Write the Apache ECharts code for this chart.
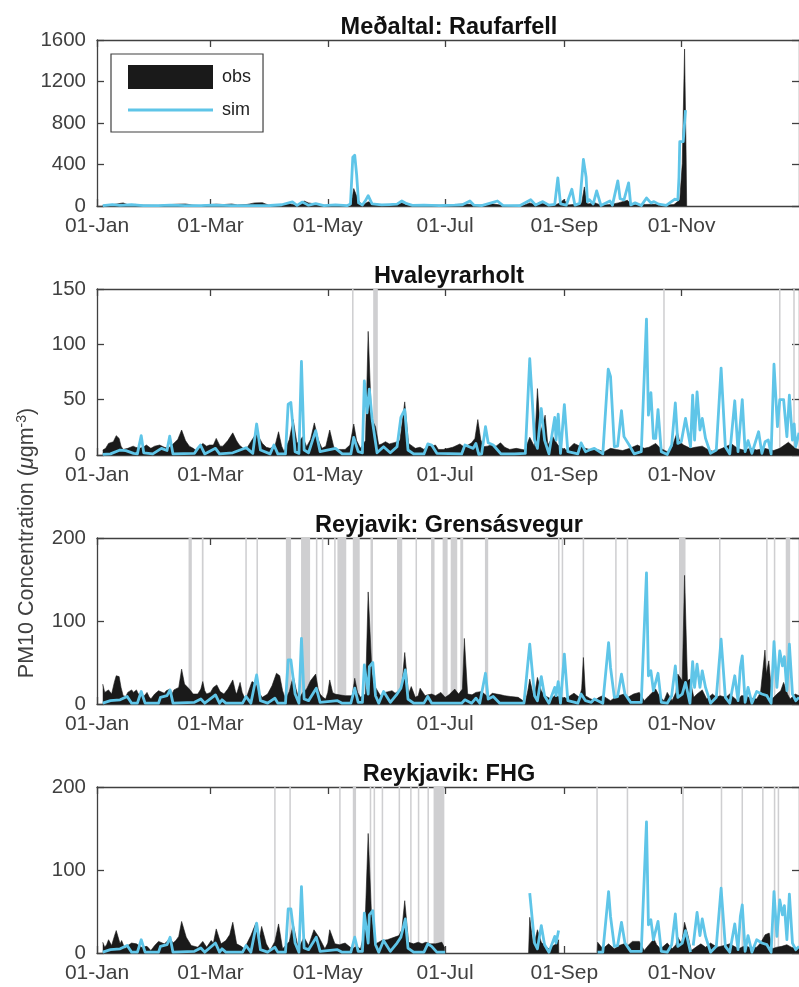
<!DOCTYPE html>
<html>
<head>
<meta charset="utf-8">
<script src="https://cdn.jsdelivr.net/npm/echarts@6/dist/echarts.min.js"></script>
<style>
html, body { margin: 0; padding: 0; background: #fff; overflow: hidden; }
#chart { width: 799px; height: 987px; }
</style>
</head>
<body>
<div id="chart"></div>
<script>
// all series are [day of year, value]
const tickDays = [0, 59, 120, 181, 243, 304];
const tickLabels = ['01-Jan', '01-Mar', '01-May', '01-Jul', '01-Sep', '01-Nov'];
const titles = ['Meðaltal: Raufarfell', 'Hvaleyrarholt', 'Reyjavik: Grensásvegur', 'Reykjavik: FHG'];
const yMax = [1600, 150, 200, 200];
const yStep = [400, 50, 100, 100];

const raufObs = [[3,5],[8,12],[13.6,30],[16,12],[20,15],[24,8],[32,6],[38,14],[42,18],[46,20],[50,8],[54,4],[58,12],[62,18],[66,14],[70,20],[73,10],[78,15],[82,30],[86,32],[89,10],[94,8],[100,22],[104,6],[107.7,48],[110,30],[113,20],[118,6],[124,10],[128,3],[132,8],[133.5,168],[136,50],[138,8],[141,40],[144,22],[148,10],[152,12],[156,25],[158.5,30],[161,12],[166,6],[172,10],[178,8],[186,12],[190,20],[194,16],[198,6],[205,22],[208,14],[212,4],[222,8],[225,30],[228,12],[230,35],[233,18],[238,8],[240,25],[242.7,60],[245,10],[249,18],[252,30],[253.4,184],[255,20],[259,30],[262,8],[267,14],[271,30],[275.8,55],[278,12],[285,15],[290,16],[294,8],[300,14],[303,60],[304.3,410],[305.5,1513],[306.3,500],[306.6,0]];
const raufSim = [[3,4],[8,14],[12,6],[18,12],[24,4],[32,3],[38,8],[46,4],[54,3],[60,8],[70,4],[82,3],[90,5],[96,12],[101.6,39],[104,6],[106.8,38],[110,8],[113.7,22],[118,4],[124,10],[130,3],[131.8,20],[133,470],[134,490],[135,300],[136,30],[138,10],[139.5,50],[141,100],[143,20],[148,10],[152,14],[156,18],[158.5,48],[161,22],[164,6],[170,8],[178,4],[186,8],[190,12],[193.9,48],[196,8],[200,4],[205,30],[208.2,48],[211,6],[220,4],[225.5,61],[228,10],[231.8,42],[235,8],[238,16],[239.6,271],[241,20],[244,8],[246.9,161],[248.5,8],[251,25],[252.9,448],[254.3,280],[255,40],[256,60],[258,20],[259.8,145],[262,5],[266.7,48],[268,8],[270.8,242],[272,70],[272.9,70],[274,60],[276.4,222],[277.5,10],[279.8,30],[283,4],[285.7,77],[288,30],[289.6,42],[292,18],[296,6],[300.3,65],[302,60],[302.6,280],[303,620],[304.8,620],[306,925]];
const raufGaps = [];

const hvalObs = [[3,4.5],[4.5,6],[6,10.5],[7,9],[8.5,12],[10,17.5],[11.5,15],[12.5,8],[13.6,5],[16,6],[18.8,8],[20,7],[22,6],[24,7],[25.7,9],[28,6],[30,8],[32.6,9],[35,7],[37,6],[39,9],[40,10],[42,14],[44,22.6],[46,13],[48,8],[50,6],[51.6,4],[53,7],[55,10.5],[57,8],[58.5,9],[60.5,9],[62,15],[64,8],[65.4,8],[68,13],[70.6,20],[72.5,13],[74,9],[76,6],[77.5,5],[80,12],[82.6,19],[84.5,15],[86,10.5],[88,7],[90,6],[92.5,8],[94.4,21],[96,8],[97.3,3],[100,14],[102,32],[104,10.5],[107,16.6],[109,7.5],[111,14],[113,29],[115,14],[117,6],[119,8],[121,22.6],[123,8],[124,5],[127,5],[129,5],[131.5,9],[133.5,28],[135,13],[137,6],[139.6,13],[141,111.7],[142.7,33],[144.8,25.6],[146.5,9],[148,10],[150,12],[152,10],[155,11.4],[157.5,13],[160,48],[162,10.5],[164,8],[165.5,6],[168,7],[170,5],[172.4,9],[174,8],[176,9],[177.5,5],[180,5],[182.7,6],[185,7],[188.7,10],[191,7],[194.8,11],[196.5,15],[198,32],[199.5,14],[200.8,7.5],[203,8],[205,9],[207.5,8],[209.8,11],[212,7],[214.6,5],[218,6],[222.4,4.5],[225,16],[227.5,7.5],[229,60],[230.6,20],[233,36],[234.4,9],[237,16.6],[239.6,9],[242,6],[244,4.5],[246,7],[248,10.5],[251.7,7.5],[254,6],[256.9,4.5],[260,5],[263.8,3],[267,6],[270,5],[273.3,4],[277,6],[281,9],[284.5,6],[287,7],[290.5,10.5],[293,6],[296.5,3],[299,7],[301.7,21],[303,12],[305,9],[308.6,6],[311,7],[314.7,8],[317.5,5],[320.7,3],[325,6],[330,10],[333,6],[336,4.5],[340,6],[343,4.5],[347,6],[351.8,4],[355,6],[359.5,11.5],[363,6],[365,5]];
const hvalSim = [[3,0.5],[7,1],[12,4.5],[15,4],[19,1.5],[21,1],[23,17.5],[24.3,2],[29,1],[33.5,6],[36.4,4],[37.8,17],[39.5,1],[50.7,1.5],[52.4,6],[53.8,9],[56,1],[61.6,6],[63.7,1],[70.6,2],[77.5,6.6],[81,1.5],[83,28],[85,4.5],[90,1],[92,9],[94,1],[98,1],[99.4,46],[100.8,47.4],[103,3],[105,1.5],[106.3,84.5],[107.7,4.5],[110,2],[113.7,22],[116,3],[124,6],[127.5,1],[132,1],[133.5,16],[135.8,3],[138,2],[139,67],[140.4,38],[141.6,59.5],[143,33],[145.6,2],[149,7.5],[152.5,2],[156,7.5],[158,34],[159,34],[160,41],[161.7,4.5],[164.6,1],[170,1],[172,10],[174,9],[176.7,1.5],[189.6,1],[191.3,9],[195.6,6],[197,10.5],[198.5,0.5],[200,1],[202,25.6],[203.4,11],[206,9],[210,1],[217,1],[222.7,1.5],[225,87],[226.7,38],[227.5,13.5],[229,6],[231,42],[232.7,13.5],[235,1],[238,34],[238.7,13.5],[239.8,37],[241,1.5],[243,45.6],[244.8,3],[250,1],[251.7,11],[254,3],[256,4.5],[258.6,6],[263,1],[265.8,77.5],[267,71],[269,7.5],[270.7,8],[272.7,40],[274,16.6],[276.7,9],[279.3,1],[283,3],[285.7,122.8],[286.7,36],[288,56.4],[289.3,15],[290.5,15],[291.7,41],[293.4,3],[296.5,0.5],[298.8,9],[300.7,47],[302,10.5],[303.8,12],[306,33],[307,33],[308.6,7.5],[309.7,54],[310.7,13.5],[312,57],[313.5,22.6],[314.7,33],[316.4,15],[319,1.5],[322,4.5],[324.5,78.5],[326.7,7.5],[329,1],[331.6,49],[333.3,3],[335.5,50],[337,3],[338.5,13],[340.5,1.5],[344,21],[345.7,1.5],[347.4,12],[349,13.6],[350.5,1],[352,82],[353.8,25.6],[355,50],[357,50],[358.7,16.6],[360,54],[361.6,13.5],[362.5,28],[363.3,7.5],[365,20]];
const hvalGaps = [[132.6,133.4],[143.6,146],[294.4,295.2],[354.6,355.4],[362,362.8]];

const grenObs = [[3,24],[4,14],[5,13],[6,17],[7,15],[7.6,12],[9,26],[10,34],[11.5,33],[12.5,20],[13.6,10],[15,9],[16,14],[17,15],[18,17],[19,14],[20.5,17],[21.5,12],[23,11],[24,8],[26,14],[27,9],[28,6],[30,12],[32,16],[33,16],[35,13],[36,16],[38,18],[39,12],[40,17],[41,18],[42.5,20],[44,42],[45.5,24],[46.4,22],[48,18],[50,12],[52.4,12],[54,18],[55,27],[56,16],[57,12],[59,14],[60.5,20],[62.3,23],[64,15],[66,12],[68,18],[70.6,29],[72,15],[72.6,12],[74.4,26],[75.5,14],[76.6,8],[78,10],[79.5,20],[80.6,27],[82.6,24],[84,14],[86,8],[88.7,12],[91,22],[93.3,37],[95,34],[96.5,16],[98,6],[100,15],[102,34],[103.5,18],[105,6],[107,14],[109,18],[111,28],[113.7,36],[115,18],[116,12],[117.5,8],[118.9,6],[120,14],[121,29],[122.5,14],[123.7,12],[126,11],[129,10],[132.7,10],[134,31],[135.5,14],[137,8],[139.6,12],[141,135],[143,36],[144.8,20],[147.4,10],[150,14],[153.4,16],[155,13],[157,16],[158.5,22],[160,62],[162,12],[163.4,21],[165.5,8],[167,10],[168,19],[170.6,10],[172,11],[174,12],[176,10],[178.8,14],[181,8],[183,11],[186,18],[188,12],[190,18],[191,79],[192.7,12],[195,11],[197,14],[200,15],[203.4,8],[205.5,13],[207.7,12],[210,11],[212,10],[215,9],[219,8],[222.7,2],[224,16],[225,30],[226.7,12],[228,18],[229,32],[231,16],[233,10],[236,6],[238,10],[241.3,8],[244,7],[248,13],[250.8,8],[252,18],[252.9,56],[254,10],[256,7],[258.6,4],[261,8],[263,10],[265,7],[267,4],[270,9],[274,12],[276,8],[279,12],[282,14],[284.5,4],[287,10],[290.5,18],[292.5,9],[294.8,4],[296.5,14],[299,4],[301,14],[302,36],[304.3,28],[305.5,155],[307,28],[308.3,30],[310.3,8],[312,12],[314.7,17],[317,6],[320,12],[322,8],[324,10],[327,8],[329,12],[333,4],[335,10],[337,10],[340,7],[343,6],[345,14],[347.3,65],[348,36],[349.3,52],[351,6],[353.5,12],[355.5,16],[357,26],[359,12],[360.4,6],[363,12],[365,10]];
const grenSim = [[3,1],[7,4],[12,5],[15.7,9],[18,1],[21,1],[23,15],[25,1],[32,1],[33,8],[36.4,10],[38,17],[39.5,1],[50.7,2],[54,6],[56,1],[61.6,11],[63.7,1],[65,5],[67,1],[75.7,1],[77.5,9],[80,1],[83,35],[85,4],[88.7,1],[92.5,7],[94,1],[98,1],[99.4,53],[100.8,53],[103,12],[105,1],[106.3,79],[107.7,6],[110,4],[114,19],[116,2],[125,4],[127.5,1],[132,1],[134,19],[135.8,2],[138,2],[139,47],[141,12],[141.6,45],[143.4,50],[144.8,10],[146.5,1],[149,15],[152.5,2],[156,12],[158,19],[159,20],[160.3,41],[161.7,6],[164.6,1],[170,1],[172,9],[174,1],[189.6,1],[191.3,5],[194.8,1],[197,7],[199,1],[202,37],[203.4,6],[206,9],[209.4,1],[222,1],[225,72],[226,70],[227.5,10],[229,4],[231,33],[232.7,10],[235,1],[238,20],[238.7,10],[239.8,27],[241,1],[243,60],[244.8,4],[250,1],[251.7,12],[254,4],[257,2],[258.6,6],[263,1],[266,74],[267,44],[269,8],[270.7,9],[272.7,36],[274.5,12],[277.5,2],[283,2],[285.7,158],[286.7,34],[288,40],[289.3,16],[291.7,37],[293.4,2],[296.5,1],[298.8,10],[300.7,46],[302,8],[304.3,12],[306,26],[307,28],[308.3,1],[309.7,51],[310.7,20],[312,48],[313.5,20],[314.7,40],[316.4,20],[319,1],[322,8],[324.5,78],[326.7,8],[329,1],[331.6,34],[333.3,4],[334.5,44],[335.5,58],[337,2],[338.5,20],[340.5,1],[343,15],[345.7,12],[348.3,10],[350.5,1],[352,75],[353.5,20],[355,64],[356.4,46],[357.4,57],[358.7,16],[360,72],[361.6,12],[363.3,4],[365,8]];
const grenGaps = [[47.6,49.3],[54.5,55.4],[77.1,77.9],[82.9,83.7],[98.2,100.9],[106.1,110.8],[113.8,114.6],[116.9,117.7],[123.3,124.1],[125,129.6],[133,136.6],[142.2,143.5],[156,158.7],[165.6,166.4],[173.7,175.5],[179.7,182.3],[183.9,187.3],[188.9,190.4],[201.7,203.4],[239.7,240.5],[241.6,242.4],[252.5,253.3],[269.4,270.2],[275.4,276.2],[302.6,306],[323.4,324.2],[347.9,348.7],[351.9,352.7],[358.1,360.4]];

const fhgObs = [[3,13],[4,7],[5,10],[6,16],[7.6,9],[9,20],[10,27],[12,11],[12.8,15],[14.5,5],[16,9],[18,12],[20.5,11],[23,7],[26,8],[28,3],[30,9],[32,14],[35,11],[36.5,14],[38,18],[39.5,12],[41,15],[42.5,20],[44,38],[46.4,19],[49,9],[52.4,7],[55,14],[57,7],[59.4,15],[60.5,12],[62,29],[63.5,18],[64.5,11],[67,15],[69,22],[70.6,37],[72.6,11],[75,8],[76.6,5],[80,21],[82.6,36],[84,11],[85.6,32],[88,11],[90,3],[92.5,14],[94.4,35],[96.5,5],[100,14],[102,35],[104.7,5],[107.6,19],[110,9],[112.8,28],[115.4,19],[118.5,5],[120,12],[121,28],[123.7,11],[126,10],[129,12],[132.7,5],[135,8],[137,5],[138.5,20],[139.6,49],[141,144],[142.7,47],[144.8,11],[146.5,13],[148,15],[151,16],[153.4,18],[157,21],[158.5,28],[160,63],[162,13],[164.6,11],[167,13],[169,11],[171,13],[173.2,11],[176,11],[179.3,13],[180.8,6],[181,null],[224.2,null],[224.4,0],[225,43],[226.7,11],[228,18],[229,28],[231,13],[233,8],[235,5],[238.7,11],[240,16],[240.1,0],[240.2,null],[259.8,null],[260,0],[260.3,13],[263,5],[266,11],[269,5],[271.5,9],[274,11],[276,9],[278.4,14],[282,14],[284.5,3],[287,10],[289.6,17],[291,10],[293,5],[296.5,12],[299,5],[301,10],[302,19],[304,11],[305.5,37],[307.3,21],[309,3],[312,8],[314,11],[316.4,7],[319,12],[322.4,7],[326,9],[329,11],[333.6,5],[337,9],[340,6],[343,7],[345,12],[347.4,22],[349.5,24],[351,5],[353.5,7],[356,8],[358.7,10],[361,7],[363.3,5],[365,6]];
const fhgSim = [[3,1],[7,4],[12,5],[15.7,9],[18,1],[21,1],[23,16],[25,1],[32,1],[33,8],[36.4,10],[38,19],[39.5,1],[50.7,2],[54,6],[56,1],[61.6,12],[63.7,1],[65,5],[67,1],[75.7,1],[77.5,9],[80,1],[83,36],[85,4],[88.7,1],[92.5,7],[94,1],[98,1],[99.4,53],[100.8,53],[103,12],[105,1],[106.3,80],[107.7,6],[110,4],[114,19],[116,2],[125,4],[127.5,1],[132,1],[134,19],[135.8,2],[138,2],[139,48],[141,12],[141.6,46],[143.4,51],[144.8,10],[146.5,1],[149,15],[152.5,2],[156,12],[158,19],[159,20],[160.3,41],[161.7,6],[164.6,1],[170,1],[172,11],[174,8],[176.7,1],[181,1],[181.5,null],[224.5,null],[225,72],[226,70],[227.5,12],[229,5],[231,33],[232.7,10],[235,1],[238,20],[238.7,12],[240,27],[240.5,null],[259.5,null],[260.3,1],[263,1],[266,74],[267,44],[269,8],[270.7,9],[272.7,37],[274.5,12],[277.5,2],[283,2],[285.7,158],[286.7,34],[288,40],[289.3,16],[291.7,38],[293.4,2],[296.5,1],[298.8,10],[300.7,47],[302,8],[304.3,12],[306,27],[307,25],[308.6,1],[309.5,null],[310,9],[312,49],[313.5,21],[314.7,41],[316.4,20],[319,1],[322,8],[324.5,78],[326.7,8],[329,1],[331.6,35],[333.3,4],[334.5,44],[335.5,58],[337,2],[338.5,21],[340.5,1],[343,16],[345.7,12],[348.3,10],[350.5,1],[352,74],[353.5,20],[355,64],[356.4,46],[357.4,57],[358.7,16],[360,71],[361.6,12],[363.3,4],[365,8]];
const fhgGaps = [[92.1,92.9],[100,100.8],[125.9,126.7],[133,134.7],[141.8,142.6],[143.8,144.6],[148,148.8],[156.8,157.6],[162.8,163.6],[166.8,167.6],[171.8,172.6],[175,180.6],[259.6,260.4],[275.4,276.2],[304.3,305.1],[324.3,325.1],[335.1,335.9],[345.8,346.6],[351.9,352.7],[353.9,354.7]];

const obsData = [raufObs, hvalObs, grenObs, fhgObs];
const simData = [raufSim, hvalSim, grenSim, fhgSim];
const gapData = [raufGaps, hvalGaps, grenGaps, fhgGaps];

const axisColor = '#404040';
const simColor = '#5fc5e8';
const fontName = '"Liberation Sans", Arial, sans-serif';
const panelTops = [40, 289, 538, 787];
const panelHeight = 166;
// legend key for sim: a thin bar, tiny corner specks keep the icon box at full item size
const simIcon = 'path://M0 0L0.01 0L0.01 0.01L0 0.01ZM0 10.6L85 10.6L85 13.4L0 13.4ZM84.99 23.99L85 23.99L85 24L84.99 24Z';

const chart = echarts.init(document.getElementById('chart'), null, { renderer: 'canvas' });

const grid = [], xAxis = [], yAxis = [], series = [], title = [];
panelTops.forEach((top, i) => {
    grid.push({ left: 97, top: top, width: 705, height: panelHeight });
    title.push({
        text: titles[i],
        left: 444,
        top: top - 29,
        textAlign: 'center',
        textStyle: { fontFamily: fontName, fontSize: 23.5, fontWeight: 'bold', color: '#111' }
    });
    // MATLAB style box: axes on both sides, ticks pointing in
    ['bottom', 'top'].forEach(pos => {
        xAxis.push({
            type: 'value',
            gridIndex: i,
            position: pos,
            min: 0,
            max: 365,
            splitLine: { show: false },
            axisLine: { show: true, onZero: false, lineStyle: { color: axisColor, width: 1.3 } },
            axisTick: { show: true, inside: true, length: 7, customValues: tickDays, lineStyle: { color: axisColor, width: 1.3 } },
            axisLabel: {
                show: pos === 'bottom',
                customValues: tickDays,
                margin: 10,
                color: axisColor,
                fontFamily: fontName,
                fontSize: 21,
                formatter: v => tickLabels[tickDays.indexOf(v)]
            }
        });
    });
    ['left', 'right'].forEach(pos => {
        yAxis.push({
            type: 'value',
            gridIndex: i,
            position: pos,
            min: 0,
            max: yMax[i],
            interval: yStep[i],
            splitLine: { show: false },
            axisLine: { show: true, onZero: false, lineStyle: { color: axisColor, width: 1.3 } },
            axisTick: { show: true, inside: true, length: 7, lineStyle: { color: axisColor, width: 1.3 } },
            axisLabel: {
                show: pos === 'left',
                margin: 11,
                color: axisColor,
                fontFamily: fontName,
                fontSize: 20.5,
                formatter: v => String(v)
            }
        });
    });
    series.push({
        name: 'gap',
        type: 'custom',
        xAxisIndex: i * 2,
        yAxisIndex: i * 2,
        z: 1,
        data: gapData[i],
        encode: { x: [0, 1] },
        renderItem: (params, api) => {
            const a = api.coord([api.value(0), 0]);
            const b = api.coord([api.value(1), 0]);
            return {
                type: 'rect',
                shape: { x: a[0], y: params.coordSys.y, width: b[0] - a[0], height: params.coordSys.height },
                style: { fill: '#cfcfd1' }
            };
        }
    });
    series.push({
        name: 'obs',
        type: 'line',
        xAxisIndex: i * 2,
        yAxisIndex: i * 2,
        z: 2,
        data: obsData[i],
        symbol: 'none',
        connectNulls: false,
        itemStyle: { color: '#1a1a1a' },
        lineStyle: { color: '#1a1a1a', width: 0.6 },
        areaStyle: { color: '#1a1a1a', opacity: 1 }
    });
    series.push({
        name: 'sim',
        type: 'line',
        xAxisIndex: i * 2,
        yAxisIndex: i * 2,
        z: 3,
        data: simData[i],
        symbol: 'none',
        connectNulls: false,
        itemStyle: { color: simColor },
        lineStyle: { color: simColor, width: 2.8, join: 'round' }
    });
});

chart.setOption({
    animation: false,
    backgroundColor: '#fff',
    title: title,
    grid: grid,
    xAxis: xAxis,
    yAxis: yAxis,
    series: series,
    legend: {
        left: 111,
        top: 54,
        orient: 'vertical',
        z: 20,
        data: [
            { name: 'obs', icon: 'rect' },
            { name: 'sim', icon: simIcon, itemStyle: { color: simColor, borderWidth: 0 } }
        ],
        padding: [11, 12, 10, 17],
        itemWidth: 85,
        itemHeight: 24,
        itemGap: 9,
        backgroundColor: '#fff',
        borderColor: axisColor,
        borderWidth: 1.2,
        selectedMode: false,
        textStyle: { fontFamily: fontName, fontSize: 18, color: '#222', padding: [3, 0, 0, 4] }
    },
    graphic: [{
        type: 'text',
        x: 27,
        y: 543,
        rotation: Math.PI / 2,
        style: {
            text: 'PM10 Concentration ({i|μ}gm{s|-3})',
            fontFamily: fontName,
            fontSize: 21.5,
            fill: axisColor,
            align: 'center',
            verticalAlign: 'middle',
            rich: {
                i: { fontFamily: fontName, fontSize: 21.5, fontStyle: 'italic', fill: axisColor },
                s: { fontFamily: fontName, fontSize: 14, fill: axisColor, verticalAlign: 'top', lineHeight: 24 }
            }
        }
    }]
});
</script>
</body>
</html>
